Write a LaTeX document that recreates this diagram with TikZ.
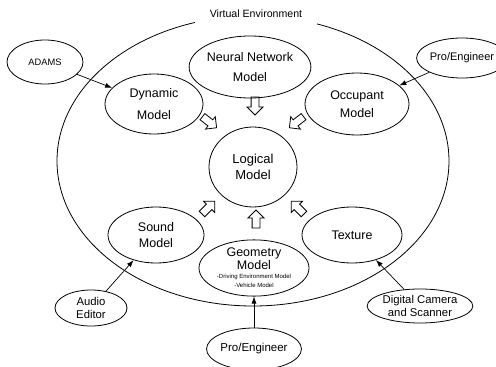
\documentclass[tikz,border=0pt]{standalone}
\usepackage{fontspec}
\setmainfont{Liberation Sans}
\usetikzlibrary{shapes.geometric,shapes.arrows,arrows.meta}
\begin{document}
\begin{tikzpicture}[x=1pt,y=-1pt,
 oval/.style={draw,ellipse,inner sep=0pt,line width=0.8pt,align=center},
 blk/.style={draw,single arrow,line width=0.8pt,minimum height=18pt,inner xsep=0pt,inner ysep=3.5pt,single arrow head extend=4pt,single arrow head indent=0pt},
 link/.style={line width=0.7pt,-{Latex[length=7pt,width=5pt]}}]
\useasboundingbox (0,0) rectangle (496,367);
\node[draw,ellipse,line width=0.8pt,minimum width=392pt,minimum height=290pt,inner sep=0pt] (env) at (253,161) {};
\node[fill=white,minimum width=122pt,minimum height=22pt,inner sep=0pt,font=\fontsize{10.6}{12}\selectfont] (ve) at (256,14) {Virtual Environment};
\node[oval,minimum width=76pt,minimum height=44pt,font=\fontsize{9.3}{11}\selectfont] (adams) at (45,62) {ADAMS};
\node[oval,minimum width=98pt,minimum height=60pt,font=\fontsize{12.5}{22}\selectfont] (dyn) at (154,104) {Dynamic\\Model};
\node[oval,minimum width=96pt,minimum height=62pt,font=\fontsize{12.5}{20}\selectfont] (nn) at (250,67) {Neural Network\\Model};
\node[oval,minimum width=76pt,minimum height=40pt,font=\fontsize{11}{13}\selectfont] (pe1) at (462,58) {Pro/Engineer};
\node[oval,minimum width=104pt,minimum height=62pt,font=\fontsize{12.5}{18}\selectfont] (occ) at (357,104) {Occupant\\Model};
\node[oval,minimum width=88pt,minimum height=80pt,font=\fontsize{13}{16}\selectfont] (log) at (253,167) {Logical\\Model};
\node[oval,minimum width=96pt,minimum height=56pt,font=\fontsize{12.5}{16.5}\selectfont] (snd) at (156,235) {Sound\\Model};
\node[oval,minimum width=110pt,minimum height=52pt,font=\fontsize{12.5}{13}\selectfont] (geo) at (254,268) {Geometry\\Model\\[-4pt]{\fontsize{6}{7}\selectfont -Driving Environment Model}\\[-4pt]{\fontsize{6}{7}\selectfont -Vehicle Model}};
\node[oval,minimum width=100pt,minimum height=56pt,font=\fontsize{12.5}{15}\selectfont] (tex) at (352,235) {Texture};
\node[oval,minimum width=72pt,minimum height=36pt,font=\fontsize{11.3}{13.5}\selectfont] (aud) at (91,308) {Audio\\Editor};
\node[oval,minimum width=84pt,minimum height=34pt,font=\fontsize{11.3}{13.5}\selectfont] (cam) at (420,306) {Digital Camera\\and Scanner};
\node[oval,minimum width=72pt,minimum height=42pt,font=\fontsize{11.5}{13}\selectfont] (pe2) at (254,349) {Pro/Engineer};
\node[blk,rotate=-90] (a1) at (255,104) {};
\node[blk,rotate=-38] (a2) at (208,121) {};
\node[blk,rotate=-142] (a3) at (298,121) {};
\node[blk,rotate=45] (a4) at (207,209) {};
\node[blk,rotate=90] (a5) at (256,221) {};
\node[blk,rotate=135] (a6) at (299,209) {};
\draw[link] (adams) -- (dyn);
\draw[link] (pe1) -- (occ);
\draw[link] (aud) -- (snd);
\draw[link] (cam) -- (tex);
\draw[link] (pe2) -- (geo);
\end{tikzpicture}
\end{document}
